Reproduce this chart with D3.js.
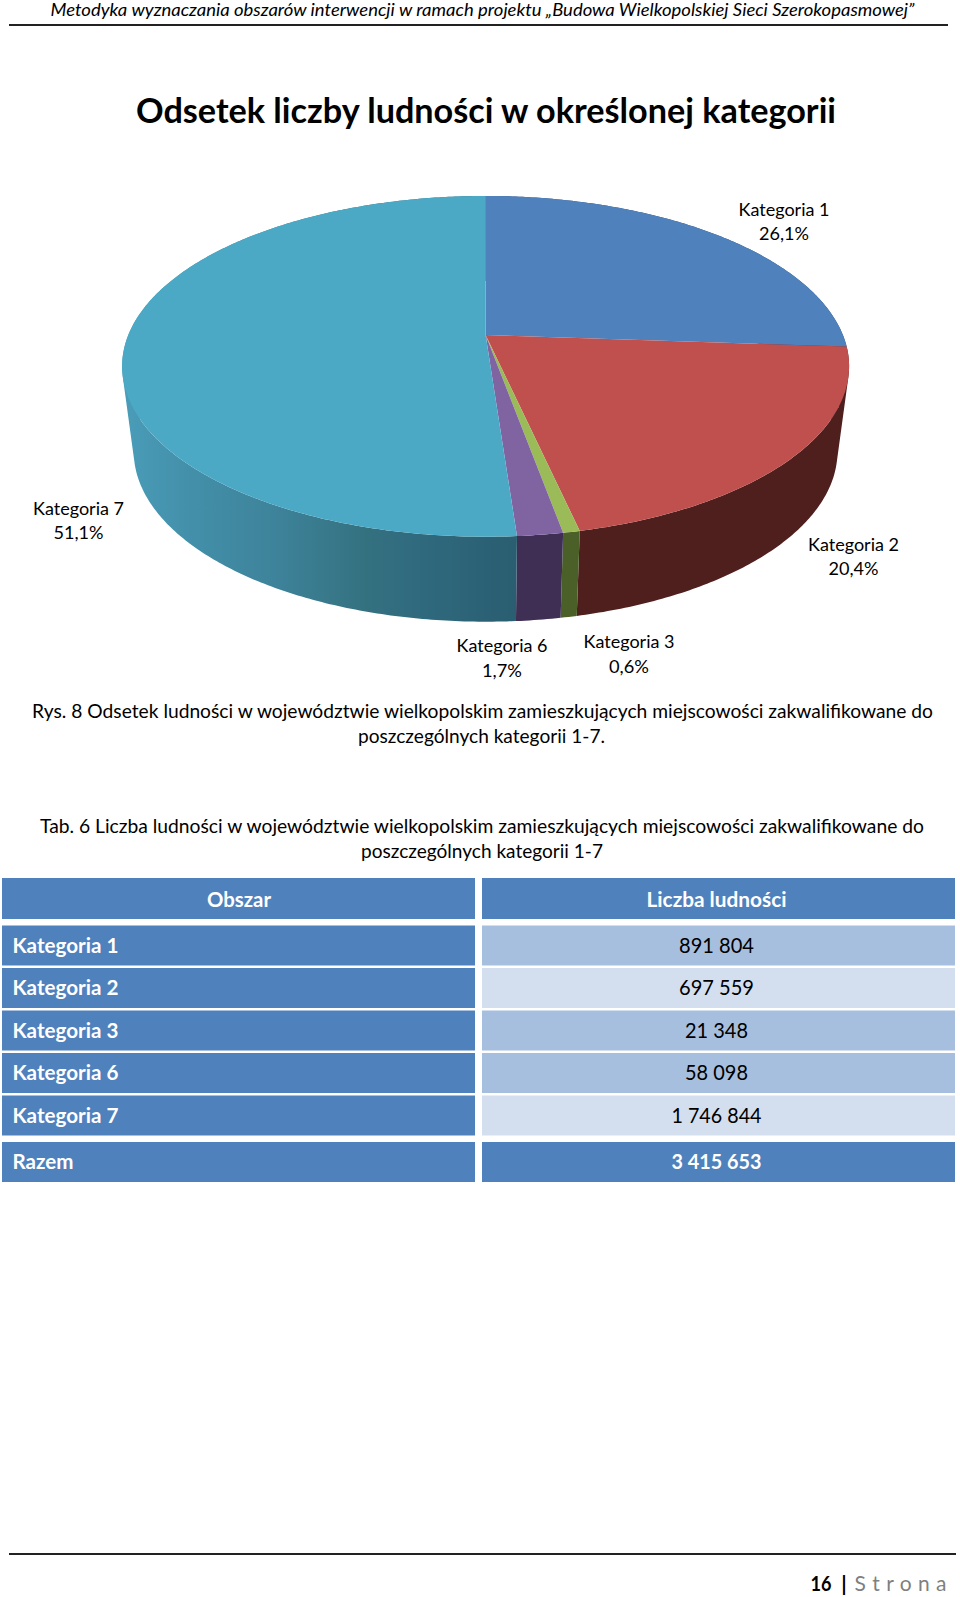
<!DOCTYPE html>
<html><head><meta charset="utf-8">
<script src="https://cdn.jsdelivr.net/npm/d3@7/dist/d3.min.js"></script>
<style>html,body{margin:0;padding:0;background:#fff}svg{display:block}text{font-family:Lato,"Noto Sans",sans-serif}</style>
</head><body><svg id="c" width="960" height="1597"></svg>
<script>
const categories=["Kategoria 1","Kategoria 2","Kategoria 3","Kategoria 6","Kategoria 7"];
const population=[891804,697559,21348,58098,1746844];
const populationLabels=["891 804","697 559","21 348","58 098","1 746 844"];
const percentLabels=["26,1%","20,4%","0,6%","1,7%","51,1%"];
const totalLabel="3 415 653";
const topColors=["#4F81BD","#C0504D","#9BBB59","#8064A2","#4BA9C5"];
const sideColors=["#2B4A70","#4F1F1E","#4A6028","#3F2F55","url(#g7)"];
const rowShades=["#A7BFDE","#D3DFEE","#A7BFDE","#A7BFDE","#D3DFEE"];

const svg=d3.select("#c");
function t(s,x,y,size,w,o={}){
  const n=svg.append("text").attr("x",x).attr("y",y).attr("font-size",size)
    .attr("text-anchor",o.anchor||"middle").attr("fill",o.fill||"#000").text(s);
  if(o.bold)n.attr("font-weight","bold");
  if(o.italic)n.attr("font-style","italic");
  if(w)n.attr("textLength",w).attr("lengthAdjust",o.adjust||"spacingAndGlyphs");
  return n;
}
// header & footer
t("Metodyka wyznaczania obszarów interwencji w ramach projektu „Budowa Wielkopolskiej Sieci Szerokopasmowej”",482.5,16,17,864,{italic:true});
svg.append("rect").attr("x",9).attr("y",24).attr("width",939).attr("height",2).attr("fill","#222");
t("Odsetek liczby ludności w określonej kategorii",486,123,34,700,{bold:true});
svg.append("rect").attr("x",9).attr("y",1553).attr("width",947).attr("height",2).attr("fill","#222");
t("16",810.5,1591,21,21,{anchor:"start",bold:true});
t("|",844,1591,21,null,{bold:true});
t("S t r o n a",854.5,1591,21,92,{anchor:"start",fill:"#7F7F7F",adjust:"spacing"});

// pie in perspective
const cx=485.6,cy=335,ra=357.3,rb=164.6,persp=0.184,depth=85,shrink=0.968;
const defs=svg.append("defs");
const g7=defs.append("linearGradient").attr("id","g7").attr("gradientUnits","userSpaceOnUse")
  .attr("x1",120).attr("x2",520).attr("y1",0).attr("y2",0);
[[0,"#4A9DB9"],[.18,"#438FA9"],[.4,"#3D8299"],[.62,"#34717F"],[.72,"#306B80"],[1,"#2A5D70"]]
  .forEach(([o,c])=>g7.append("stop").attr("offset",o).attr("stop-color",c));
const slices=d3.pie().sort(null).value(d=>d)(population);
const rimTop=a=>{const u=Math.sin(a),v=-Math.cos(a),w=1-persp*v;return [cx+ra*u/w,cy+rb*v/w];};
const rimBottom=a=>{const p=rimTop(a);return [cx+(p[0]-cx)*shrink,p[1]+depth];};
const pathLine=d3.line();
const arcAngles=s=>{const n=Math.max(2,Math.ceil((s.endAngle-s.startAngle)*90));return d3.range(n+1).map(i=>s.startAngle+(s.endAngle-s.startAngle)*i/n);};
// the side wall is the sweep of the rim: one consistently wound quad per arc step
const sidePath=s=>{
  const A=arcAngles(s);
  return d3.pairs(A).map(([a,b])=>{
    const q=[rimTop(a),rimTop(b),rimBottom(b),rimBottom(a)];
    if(d3.polygonArea(q)<0)q.reverse();
    return pathLine(q)+"Z";
  }).join("");
};
svg.append("g").selectAll("path").data(slices).join("path")
  .attr("d",sidePath).attr("fill",(s,i)=>sideColors[i]);
svg.append("g").selectAll("path").data(slices).join("path")
  .attr("d",s=>pathLine([[cx,cy]].concat(arcAngles(s).map(rimTop)))+"Z")
  .attr("fill",(s,i)=>topColors[i]);

// pie labels
const labelPos=[[784,216,240],[853.5,551,575],[629,648,672.5],[502,652,676.5],[78.5,515,539]];
const labelPctW=[50,50,40,40,50];
categories.forEach((c,i)=>{
  const [x,y1,y2]=labelPos[i];
  t(c,x,y1,18,91);
  t(percentLabels[i],x,y2,18,labelPctW[i]);
});

// captions
t("Rys. 8 Odsetek ludności w województwie wielkopolskim zamieszkujących miejscowości zakwalifikowane do",482.5,717.5,19,901);
t("poszczególnych kategorii 1-7.",481.5,743,19,247);
t("Tab. 6 Liczba ludności w województwie wielkopolskim zamieszkujących miejscowości zakwalifikowane do",482,833,19,884);
t("poszczególnych kategorii 1-7",482,858,19,242);

// table
const c1=2,c1w=473,c2=482,c2w=473,head="#4F81BD";
const cell=(x,y,w,h,f)=>svg.append("rect").attr("x",x).attr("y",y).attr("width",w).attr("height",h).attr("fill",f);
cell(c1,878,c1w,41,head);cell(c2,878,c2w,41,head);
t("Obszar",239,906.5,21,64,{bold:true,fill:"#fff"});
t("Liczba ludności",716.5,906.5,21,140,{bold:true,fill:"#fff"});
const rowY=d3.scaleBand().domain(categories).range([925.5,1138]);
categories.forEach((c,i)=>{
  const y=rowY(c);
  cell(c1,y,c1w,40,head);cell(c2,y,c2w,40,rowShades[i]);
  t(c,12.5,y+27,21,106,{anchor:"start",bold:true,fill:"#fff"});
  t(populationLabels[i],716.5,y+27,21,populationLabels[i].length>7?90:(populationLabels[i].length>6?75:63));
});
cell(c1,1142,c1w,40,head);cell(c2,1142,c2w,40,head);
t("Razem",12.5,1169,21,61,{anchor:"start",bold:true,fill:"#fff"});
t(totalLabel,716.5,1169,21,90,{bold:true,fill:"#fff"});
</script></body></html>
